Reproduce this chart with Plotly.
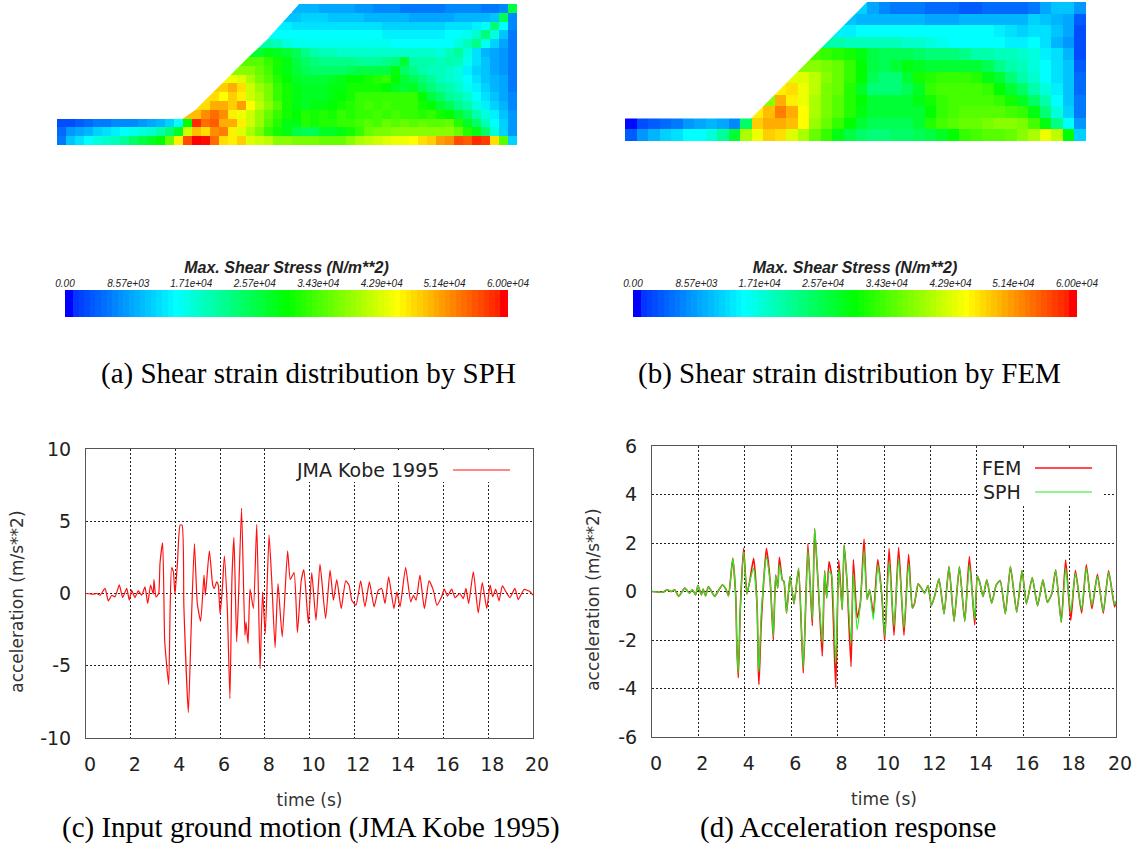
import plotly.graph_objects as go

W, H = 1138, 847
N = None

# ---- Shear stress grids, kN/m^2 (top row first; empty cells left of the slope) ----
sph_rows = [
 [10,10,10,9,9,9,9,8,8,7,7,7,6,6,6,6,6,7,7,7,7,6,6,7,26],
 [11,11,12,12,12,11,11,11,11,10,10,10,10,10,9,9,9,9,9,10,10,10,10,11,25,7],
 [14,14,13,13,13,13,13,13,13,13,13,13,12,12,12,12,12,12,12,13,13,13,14,15,23,15,7],
 [15,15,15,15,15,15,15,15,15,15,15,15,15,14,14,14,14,14,14,14,15,15,16,18,23,17,11,6],
 [20,20,19,17,16,16,16,16,16,16,16,16,16,16,16,15,15,15,15,15,15,15,17,19,22,16,12,9,6],
 [27,27,29,28,27,25,22,20,19,19,18,18,18,18,18,18,18,18,18,18,18,17,19,21,17,13,10,9,8,6],
 [35,35,35,33,31,29,26,24,23,22,22,22,22,21,21,21,22,23,27,20,20,20,19,20,19,16,13,11,9,8,6],
 [38,38,38,36,34,31,29,27,25,24,24,24,24,25,26,26,26,26,29,24,22,20,19,19,18,17,14,12,11,9,8,6],
 [44,44,43,40,37,35,32,30,28,27,27,27,28,29,30,30,31,32,33,30,27,25,23,21,19,18,17,15,13,11,10,9,6],
 [48,48,50,47,42,39,37,33,31,29,28,28,28,29,29,31,31,31,31,30,28,27,28,25,23,21,20,18,16,14,12,10,9,6],
 [47,47,45,48,46,42,40,37,33,31,29,28,28,28,29,30,31,33,33,33,33,33,33,33,30,26,24,21,20,18,15,13,11,9,7],
 [47,47,50,50,48,51,45,41,38,35,31,29,28,29,29,30,31,32,33,34,33,34,33,33,33,31,30,27,25,22,20,17,14,12,10,7],
 [49,49,52,54,52,46,44,42,39,36,33,31,30,32,31,32,31,33,32,33,33,34,33,34,33,33,32,33,31,30,27,24,20,17,14,11,8],
 [3,3,4,5,6,6,7,7,7,8,9,10,12,15,30,58,54,55,50,50,46,42,39,35,32,29,29,32,31,32,32,33,33,34,35,34,36,35,36,35,36,35,35,36,32,28,24,19,15,12,8],
 [5,8,9,10,12,13,14,15,16,17,18,20,23,28,42,49,47,52,53,46,43,40,37,33,31,29,26,25,25,28,28,29,31,33,36,37,37,38,38,38,38,38,38,38,36,32,29,24,17,12,8],
 [6,11,13,15,17,18,19,21,24,26,28,30,36,46,56,60,59,54,47,46,48,43,42,41,38,38,37,37,37,36,36,36,38,40,41,42,43,44,44,45,47,48,51,52,56,55,58,57,47,35,12],
]
fem_rows = [
 [12,12,9,7,6,6,6,5,5,5,4,4,5,5,5,5,6,9,11,11,8],
 [12,12,11,10,10,10,10,10,10,9,9,9,10,10,10,10,10,10,12,11,10,9,4],
 [14,14,14,14,15,15,15,15,15,15,15,15,15,15,15,15,14,13,12,13,13,11,9,3],
 [22,22,20,20,19,19,19,19,19,18,18,17,16,15,15,15,15,15,14,14,15,13,10,8,3],
 [34,34,33,32,31,29,26,25,25,25,24,23,23,23,22,20,20,19,19,18,17,14,13,10,3],
 [38,38,38,37,36,33,30,26,25,27,29,28,27,27,27,27,27,25,22,20,19,17,15,13,11,4],
 [43,43,43,41,38,36,33,30,25,23,23,27,31,32,33,33,33,32,29,27,23,20,18,15,13,11,5],
 [46,46,47,44,41,37,36,32,28,23,23,23,25,28,33,34,34,34,34,33,30,27,24,20,17,14,11,5],
 [38,38,50,46,44,40,37,35,32,30,27,27,27,27,29,31,33,34,34,34,34,33,31,28,24,20,15,11,6],
 [46,46,49,53,50,45,40,37,35,32,29,27,27,27,27,27,30,33,34,35,35,35,35,34,33,29,23,17,12,6],
 [1,3,4,5,6,8,9,10,9,7,24,48,50,50,49,45,39,36,33,30,27,25,25,25,25,27,32,34,35,36,36,37,38,38,37,34,29,22,15,8],
 [4,8,10,12,13,15,15,17,21,27,40,44,48,47,43,40,36,33,29,26,24,23,23,24,24,25,26,28,30,33,34,35,35,36,38,40,44,41,30,12],
]
colorbar_levels = [i * 0.75 for i in range(81)]
colorbar_ticks = [0,8.57,17.1,25.7,34.3,42.9,51.4,60]
colorbar_labels = ["0.00","8.57e+03","1.71e+04","2.57e+04","3.43e+04","4.29e+04","5.14e+04","6.00e+04"]
colorbar_title = "Max. Shear Stress (N/m**2)"

# ---- Time histories ----
input_t = [0,.33,.48,.63,.85,1.0,1.15,1.30,1.49,1.64,1.82,1.94,2.04,2.19,2.34,2.49,2.64,2.76,2.89,3.01,3.04,3.13,3.25,3.31,3.43,3.52,3.61,3.70,3.76,3.83,3.91,3.98,4.09,4.21,4.30,4.38,4.58,4.70,4.85,4.98,5.13,5.28,5.34,5.52,5.67,5.74,5.85,5.92,6.0,6.10,6.19,6.32,6.44,6.53,6.62,6.74,6.82,6.96,7.11,7.16,7.25,7.34,7.49,7.64,7.79,7.90,8.02,8.19,8.31,8.46,8.59,8.78,9.02,9.14,9.31,9.46,9.63,9.75,9.95,10.10,10.29,10.47,10.72,10.92,11.07,11.22,11.42,11.62,11.77,11.89,12.08,12.29,12.48,12.68,12.89,13.08,13.23,13.38,13.54,13.78,13.91,14.05,14.30,14.53,14.65,14.77,14.94,15.14,15.35,15.54,15.70,15.91,16.03,16.18,16.36,16.51,16.73,16.88,17.0,17.12,17.33,17.55,17.73,17.93,18.08,18.2,18.33,18.48,18.63,18.79,18.97,19.19,19.34,19.6,19.87,20.0]
input_a = [0,-.05,0,-.12,.35,-.51,-.12,-.23,.6,-.28,.35,-.46,.23,-.28,.18,-.12,.46,-.69,.58,-.05,.97,-.23,0,2.08,3.51,-3.23,-4.97,-6.3,-1.39,1.8,1.5,-.05,2.08,4.73,4.73,-.92,-8.24,-2.66,3.46,-.69,-1.92,1.27,-.12,2.96,.58,.35,.81,.58,-1.43,.3,2.59,-.92,-7.27,1.04,3.88,-3.35,-.46,5.89,-2.89,-1.96,-3.46,.3,-1.04,4.78,-5.2,.12,-2.77,4.04,.92,-3.74,.69,-3.0,2.96,.97,1.45,-2.7,.88,1.66,-2.08,1.45,-1.85,2.03,-1.73,1.62,-.46,.97,-1.04,.88,.58,-.46,-.81,.88,-.92,.81,-.92,.23,.35,-.69,1.15,-1.04,.12,-.92,1.8,-.58,-.12,-.46,1.27,-1.04,.88,.23,-.81,-.23,.3,-.18,.3,-.28,0,-.35,.35,-.69,1.5,-1.34,.76,-1.04,.58,-.23,.3,-.51,.53,.12,-.28,.35,-.42,.28,.12,-.12]

resp_t = [0,.47,.65,.83,.98,1.15,1.41,1.62,1.74,1.88,1.98,2.13,2.2,2.31,2.43,2.7,2.84,3.03,3.18,3.30,3.48,3.61,3.66,3.72,3.81,3.95,4.09,4.21,4.38,4.53,4.58,4.61,4.71,4.93,5.1,5.23,5.33,5.42,5.49,5.62,5.69,5.80,5.95,6.12,6.32,6.52,6.72,6.91,7.01,7.16,7.34,7.44,7.53,7.63,7.74,7.92,8.05,8.2,8.28,8.41,8.58,8.68,8.84,8.98,9.14,9.27,9.38,9.54,9.73,9.91,10.03,10.22,10.43,10.63,10.86,11.06,11.22,11.32,11.47,11.61,11.75,11.9,12.04,12.18,12.37,12.59,12.80,13.02,13.25,13.48,13.68,13.91,14.02,14.12,14.27,14.43,14.64,14.84,15.01,15.23,15.45,15.72,15.95,16.14,16.39,16.62,16.85,17.04,17.23,17.40,17.64,17.83,18.05,18.25,18.52,18.72,18.96,19.2,19.45,19.68,19.94,20.0]
fem_a = [0,-.03,.07,0,.07,-.2,.14,-.07,.07,-.14,.25,-.14,.10,-.18,.2,-.2,0,.27,.11,-.18,1.37,-.21,-2.33,-3.56,-.62,1.78,-.1,.41,1.37,-.62,-3.08,-3.84,-1.27,1.78,.34,-1.99,.68,.14,1.41,.48,.41,-.89,.62,-.51,.96,-3.36,1.96,-1.41,2.6,.34,-2.67,.86,-.27,1.23,.68,-3.97,1.30,-.75,1.92,.34,-3.1,1.32,-1.09,-.48,2.16,-.32,.07,-.92,1.32,-.2,-2.05,1.78,-1.81,1.82,-1.81,1.53,-.68,-.48,.32,.14,-.07,.25,-.59,-.2,.52,-.92,1.03,-1.23,1.03,-1.23,1.44,-1.37,.64,.41,-.21,.48,-.48,.27,.45,-.92,1.03,-.85,.86,-.51,.58,-.59,.48,-.45,-.1,.89,-1.27,1.30,-1.19,.86,-.89,1.10,-.71,.71,-.89,.85,-.64,-.4]
sph_a = [0,-.03,.07,0,.07,-.2,.14,-.07,.07,-.14,.25,-.14,.10,-.18,.2,-.2,0,.27,.11,-.18,1.37,-.21,-2.33,-3.36,-.62,1.64,-.1,.41,.96,-.62,-2.9,-3.3,-.9,1.44,.34,-1.85,.68,.14,1.1,.48,.41,-.89,.62,-.51,.96,-3.15,1.71,-1.16,2.6,.34,-2.12,.86,-.27,.82,.68,-2.95,.96,-.75,1.92,.34,-2.12,.75,-1.58,-.48,1.71,-.32,.07,-1.16,1.1,-.2,-1.85,1.23,-1.44,1.37,-1.51,1.16,-.68,-.48,.32,.14,-.07,.25,-.59,-.2,.52,-.92,1.03,-1.23,1.03,-1.23,1.1,-1.16,.64,.41,-.21,.48,-.48,.27,.45,-.92,1.03,-.85,.86,-.51,.58,-.59,.48,-.45,-.1,.89,-1.27,.96,-.82,.75,-.75,.96,-.58,.62,-.82,.79,-.55,-.4]

input_name = "JMA Kobe 1995"
xticks = [0,2,4,6,8,10,12,14,16,18,20]
yticks_c = [-10,-5,0,5,10]
yticks_d = [-6,-4,-2,0,2,4,6]
captions = ["(a) Shear strain distribution by SPH", "(b) Shear strain distribution by FEM",
            "(c) Input ground motion (JMA Kobe 1995)", "(d) Acceleration response"]

jet = [[0,"rgb(0,0,255)"],[.016,"rgb(0,0,255)"],[.02,"rgb(0,50,255)"],[.25,"rgb(0,255,255)"],
       [.5,"rgb(0,255,0)"],[.75,"rgb(255,255,0)"],[.98,"rgb(255,30,0)"],[.985,"rgb(255,0,0)"],[1,"rgb(255,0,0)"]]

def pad(rows):
    w = max(len(r) for r in rows)
    return [[N]*(w-len(r)) + r for r in rows]

def dx(a, b): return [a/W, b/W]
def dy(top, bottom): return [1-bottom/H, 1-top/H]

fig = go.Figure()

def grid_panel(rows, xname, yname, x0, x1, y0, y1, slope):
    z = pad(rows)
    fig.add_trace(go.Heatmap(z=z, zmin=0, zmax=60, colorscale=jet, showscale=False, hoverongaps=False,
                             xaxis=xname, yaxis=yname))
    fig.update_layout(**{
        "xaxis"+xname[1:]: dict(domain=dx(x0,x1), visible=False, anchor=yname, range=[-.5,len(z[0])-.5], automargin=False),
        "yaxis"+yname[1:]: dict(domain=dy(y0,y1), visible=False, anchor=xname, range=[len(z)-.5,-.5], automargin=False),
    })
    # white mask that trims the staircase to the smooth slope outline
    pts = [(x0-1, y0-4)] + slope + [(x0-1, slope[-1][1])]
    path = "M " + " L ".join(f"{x/W:.5f} {1-y/H:.5f}" for x, y in pts) + " Z"
    fig.add_shape(type="path", path=path, xref="paper", yref="paper", fillcolor="white", line_width=0, layer="above")

def bar_panel(xname, yname, x0, x1, y0=290, y1=317):
    fig.add_trace(go.Heatmap(x=colorbar_levels, y=[0], z=[colorbar_levels], zmin=0, zmax=60, colorscale=jet,
                             showscale=False, xaxis=xname, yaxis=yname))
    fig.update_layout(**{
        "xaxis"+xname[1:]: dict(domain=dx(x0,x1), anchor=yname, side="top", range=[0,60], automargin=False,
            tickmode="array", tickvals=colorbar_ticks, ticktext=colorbar_labels, ticks="", ticklabelstandoff=0,
            tickfont=dict(family="Liberation Sans", size=10, style="italic", color="#222"), showgrid=False, zeroline=False,
            title=dict(text=colorbar_title, standoff=0,
                       font=dict(family="Liberation Sans", size=16, style="italic", weight="bold", color="#222"))),
        "yaxis"+yname[1:]: dict(domain=dy(y0,y1), anchor=xname, visible=False, automargin=False),
    })

sph_slope = [(298.5,2),(298.5,4.7),(266.7,40),(248.3,57.3),(221.7,83.7),(195,110.3),(183,118.5)]
fem_slope = [(867,0),(867,2),(751,118.5)]
grid_panel(sph_rows, "x", "y", 57, 517, 4, 145, sph_slope)
grid_panel(fem_rows, "x2", "y2", 625, 1086, 2, 141, fem_slope)
bar_panel("x3", "y3", 65, 508)
bar_panel("x4", "y4", 633, 1077)

def line_axes(xname, yname, x0, x1, y0, y1, yticks, yrange, ytitle_standoff):
    base = dict(showline=True, mirror=True, linecolor="#555", linewidth=1, ticks="", showgrid=True, automargin=False,
                gridcolor="#222", griddash="2px,2px", gridwidth=1, zeroline=False,
                tickfont=dict(family="DejaVu Sans", size=19, color="#222"),
                title_font=dict(family="DejaVu Sans", size=17, color="#333"))
    fig.update_layout(**{
        "xaxis"+xname[1:]: dict(base, domain=dx(x0,x1), anchor=yname, range=[0,20], tickvals=xticks,
                                ticktext=[str(v) for v in xticks],
                                ticklabelshift=4, ticklabelstandoff=9,
                                title=dict(text="time (s)", standoff=20)),
        "yaxis"+yname[1:]: dict(base, domain=dy(y0,y1), anchor=xname, range=yrange, tickvals=yticks,
                                ticktext=[str(v) for v in yticks],
                                ticklabelstandoff=10,
                                title=dict(text="acceleration (m/s**2)&nbsp;&nbsp;&nbsp;", standoff=ytitle_standoff)),
    })

line_axes("x5", "y5", 86, 533, 449, 738, yticks_c, [-10,10], 12)
line_axes("x6", "y6", 652, 1116, 446, 737, yticks_d, [-6,6], 14)

fig.add_trace(go.Scatter(x=input_t, y=input_a, mode="lines", name=input_name, xaxis="x5", yaxis="y5",
                         line=dict(color="#ff1010", width=1.2, shape="spline", smoothing=0.5)))
fig.add_trace(go.Scatter(x=resp_t, y=fem_a, mode="lines", name="FEM", xaxis="x6", yaxis="y6",
                         line=dict(color="#ff1010", width=1.6, shape="spline", smoothing=0.5)))
fig.add_trace(go.Scatter(x=resp_t, y=sph_a, mode="lines", name="SPH", xaxis="x6", yaxis="y6",
                         line=dict(color="#20ee20", width=1.2, shape="spline", smoothing=0.5)))

# legend keys drawn in the gnuplot manner: label on the left, sample on the right
def key_box(l, r, t, b):
    fig.add_shape(type="rect", xref="paper", yref="paper", x0=l/W, x1=r/W, y0=1-b/H, y1=1-t/H,
                  fillcolor="white", line_width=0, layer="above")

def key(label, xr, yc, x0, x1, color, width):
    fig.add_shape(type="line", xref="paper", yref="paper", x0=x0/W, x1=x1/W, y0=1-yc/H, y1=1-yc/H,
                  line=dict(color=color, width=width), layer="above")
    fig.add_annotation(text=label, xref="paper", yref="paper", x=xr/W, y=1-yc/H, xanchor="right", yanchor="middle",
                       showarrow=False, font=dict(family="DejaVu Sans", size=19, color="#222"))

key_box(296, 516, 450, 482)
key_box(979, 1103, 450, 506)
key(input_name, 441, 470, 453, 510, "#ff1010", 1)
key("FEM", 1023, 468, 1035, 1092, "#ff1010", 1.6)
key("SPH", 1023, 492, 1035, 1092, "#20ee20", 1.2)

cap_pos = [(308.5, 373), (849.5, 373), (310.5, 827), (848, 827)]
for text, (cx, cy) in zip(captions, cap_pos):
    fig.add_annotation(text=text, xref="paper", yref="paper", x=cx/W, y=1-cy/H, xanchor="center", yanchor="middle",
                       showarrow=False, font=dict(family="Liberation Serif", size=29, color="black"))

fig.update_layout(width=W, height=H, margin=dict(l=0,r=0,t=0,b=0), paper_bgcolor="white", plot_bgcolor="white",
                  showlegend=False, template="none")
fig.write_html("out.html", config=dict(displayModeBar=False),
               post_script="document.body.style.margin='0';document.documentElement.style.overflow='hidden';")
